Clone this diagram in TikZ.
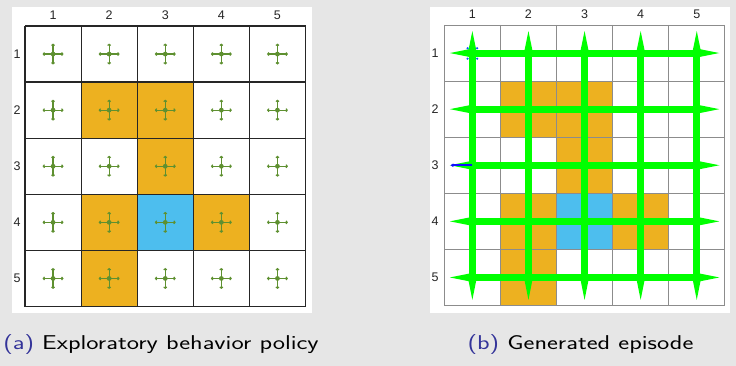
\documentclass[tikz,border=0pt]{standalone}
\usepackage{fontspec}
\newfontfamily\labelfont{Liberation Sans}
\usetikzlibrary{arrows.meta,calc}
\definecolor{bg}{HTML}{E6E6E6}
\definecolor{morange}{HTML}{EDB120}
\definecolor{mcyan}{HTML}{4DBEEE}
\definecolor{qgreen}{HTML}{5E9030}
\definecolor{capblue}{rgb}{0.2,0.2,0.6}
\definecolor{gridgray}{HTML}{8C8C8C}
\definecolor{labgray}{HTML}{262626}
\definecolor{epgreen}{HTML}{00FF00}
\definecolor{epblue}{HTML}{1010FF}
\tikzset{
  axlabel/.style={font=\labelfont\fontsize{12.5}{14}\selectfont, text=labgray, inner sep=0pt},
  caption/.style={font=\sffamily\fontsize{20}{24}\selectfont, inner sep=0pt, anchor=base},
  darkgrid/.style={draw=labgray, line width=1.2pt},
  lightgrid/.style={draw=gridgray, line width=0.9pt},
  quiv/.style={draw=qgreen, line width=1.2pt, -{Straight Barb[length=1.2pt,width=3pt]}},
  epbar/.style={draw=epgreen, line width=7pt},
  epspike/.style={fill=epgreen},
}
\begin{document}
\begin{tikzpicture}[x=1pt,y=-1pt]
\useasboundingbox (0,0) rectangle (736,366);
\fill[bg] (0,0) rectangle (736,366);
\fill[white] (12,7) rectangle (312,313);
\fill[white] (430,7) rectangle (730,313);
% ---------- left panel ----------
\foreach \c/\r in {2/2,3/2,3/3,2/4,4/4,2/5}
  \fill[morange] ({25+(\c-1)*56.1},{26+(\r-1)*56.1}) rectangle +(56.1,56.1);
\fill[mcyan] ({25+2*56.1},{26+3*56.1}) rectangle +(56.1,56.1);
\foreach \i in {0,...,5} {
  \draw[darkgrid] ({25+\i*56.1},26) -- ({25+\i*56.1},306.5);
  \draw[darkgrid] (25,{26+\i*56.1}) -- (305.5,{26+\i*56.1});
}
\foreach \c in {1,...,5} {
  \node[axlabel] (lc\c) at ({25+(\c-0.5)*56.1},15) {\c};
  \node[axlabel] (lr\c) at (17,{26+(\c-0.5)*56.1}) {\c};
  \foreach \r in {1,...,5} {
    \coordinate (q\c\r) at ({25+(\c-0.5)*56.1},{26+(\r-0.5)*56.1});
    \draw[quiv] (q\c\r) -- ++(10.5,0);
    \draw[quiv] (q\c\r) -- ++(-10.5,0);
    \draw[quiv] (q\c\r) -- ++(0,10.5);
    \draw[quiv] (q\c\r) -- ++(0,-10.5);
    \fill[qgreen] (q\c\r) circle (2.4pt);
  }
}
% ---------- right panel ----------
\foreach \c/\r in {2/2,3/2,3/3,2/4,4/4,2/5}
  \fill[morange] ({444.3+(\c-1)*56.1},{25+(\r-1)*56.1}) rectangle +(56.1,56.1);
\fill[mcyan] ({444.3+2*56.1},{25+3*56.1}) rectangle +(56.1,56.1);
\foreach \i in {0,...,5} {
  \draw[lightgrid] ({444.3+\i*56.1},25) -- ({444.3+\i*56.1},305.5);
  \draw[lightgrid] (444.3,{25+\i*56.1}) -- (724.8,{25+\i*56.1});
}
\foreach \c in {1,...,5} {
  \node[axlabel] (rc\c) at ({444.3+(\c-0.5)*56.1},14) {\c};
  \node[axlabel] (rr\c) at (435,{25+(\c-0.5)*56.1}) {\c};
}
\foreach \k in {1,...,5} {
  % horizontal bar in row k
  \coordinate (hl\k) at ({444.3+0.5*56.1},{25+(\k-0.5)*56.1});
  \coordinate (hr\k) at ({444.3+4.5*56.1},{25+(\k-0.5)*56.1});
  \draw[epbar] (hl\k) -- (hr\k);
  \fill[epspike] ($(hl\k)+(0,-4.5)$) -- ($(hl\k)+(-22.5,0)$) -- ($(hl\k)+(0,4.5)$) -- cycle;
  \fill[epspike] ($(hr\k)+(0,-4.5)$) -- ($(hr\k)+(22.5,0)$) -- ($(hr\k)+(0,4.5)$) -- cycle;
  % vertical bar in column k
  \coordinate (vt\k) at ({444.3+(\k-0.5)*56.1},{25+0.5*56.1});
  \coordinate (vb\k) at ({444.3+(\k-0.5)*56.1},{25+4.5*56.1});
  \draw[epbar] (vt\k) -- (vb\k);
  \fill[epspike] ($(vt\k)+(-4.5,0)$) -- ($(vt\k)+(0,-22)$) -- ($(vt\k)+(4.5,0)$) -- cycle;
  \fill[epspike] ($(vb\k)+(-4.5,0)$) -- ($(vb\k)+(0,22.5)$) -- ($(vb\k)+(4.5,0)$) -- cycle;
}
% blue marks
\foreach \dx/\dy in {-4.8/-4.8,4.8/-4.8,-4.8/5.6,4.8/5.6}
  \fill[epblue!70!cyan] ($(hl1)+(\dx,\dy)$) circle (1.2pt);
\coordinate (ba) at (hl3);
\coordinate (bb) at ($(hl3)+(-22,0)$);
\draw[epblue, line width=1.8pt, -{Latex[length=3pt,width=4pt]}] (ba) -- (bb);
% ---------- captions ----------
\node[caption] (capa) at (161,349) {\scalebox{1.3}[1]{\textcolor{capblue}{(a)} Exploratory behavior policy}};
\node[caption] (capb) at (580.5,349) {\scalebox{1.3}[1]{\textcolor{capblue}{(b)} Generated episode}};
\end{tikzpicture}
\end{document}
